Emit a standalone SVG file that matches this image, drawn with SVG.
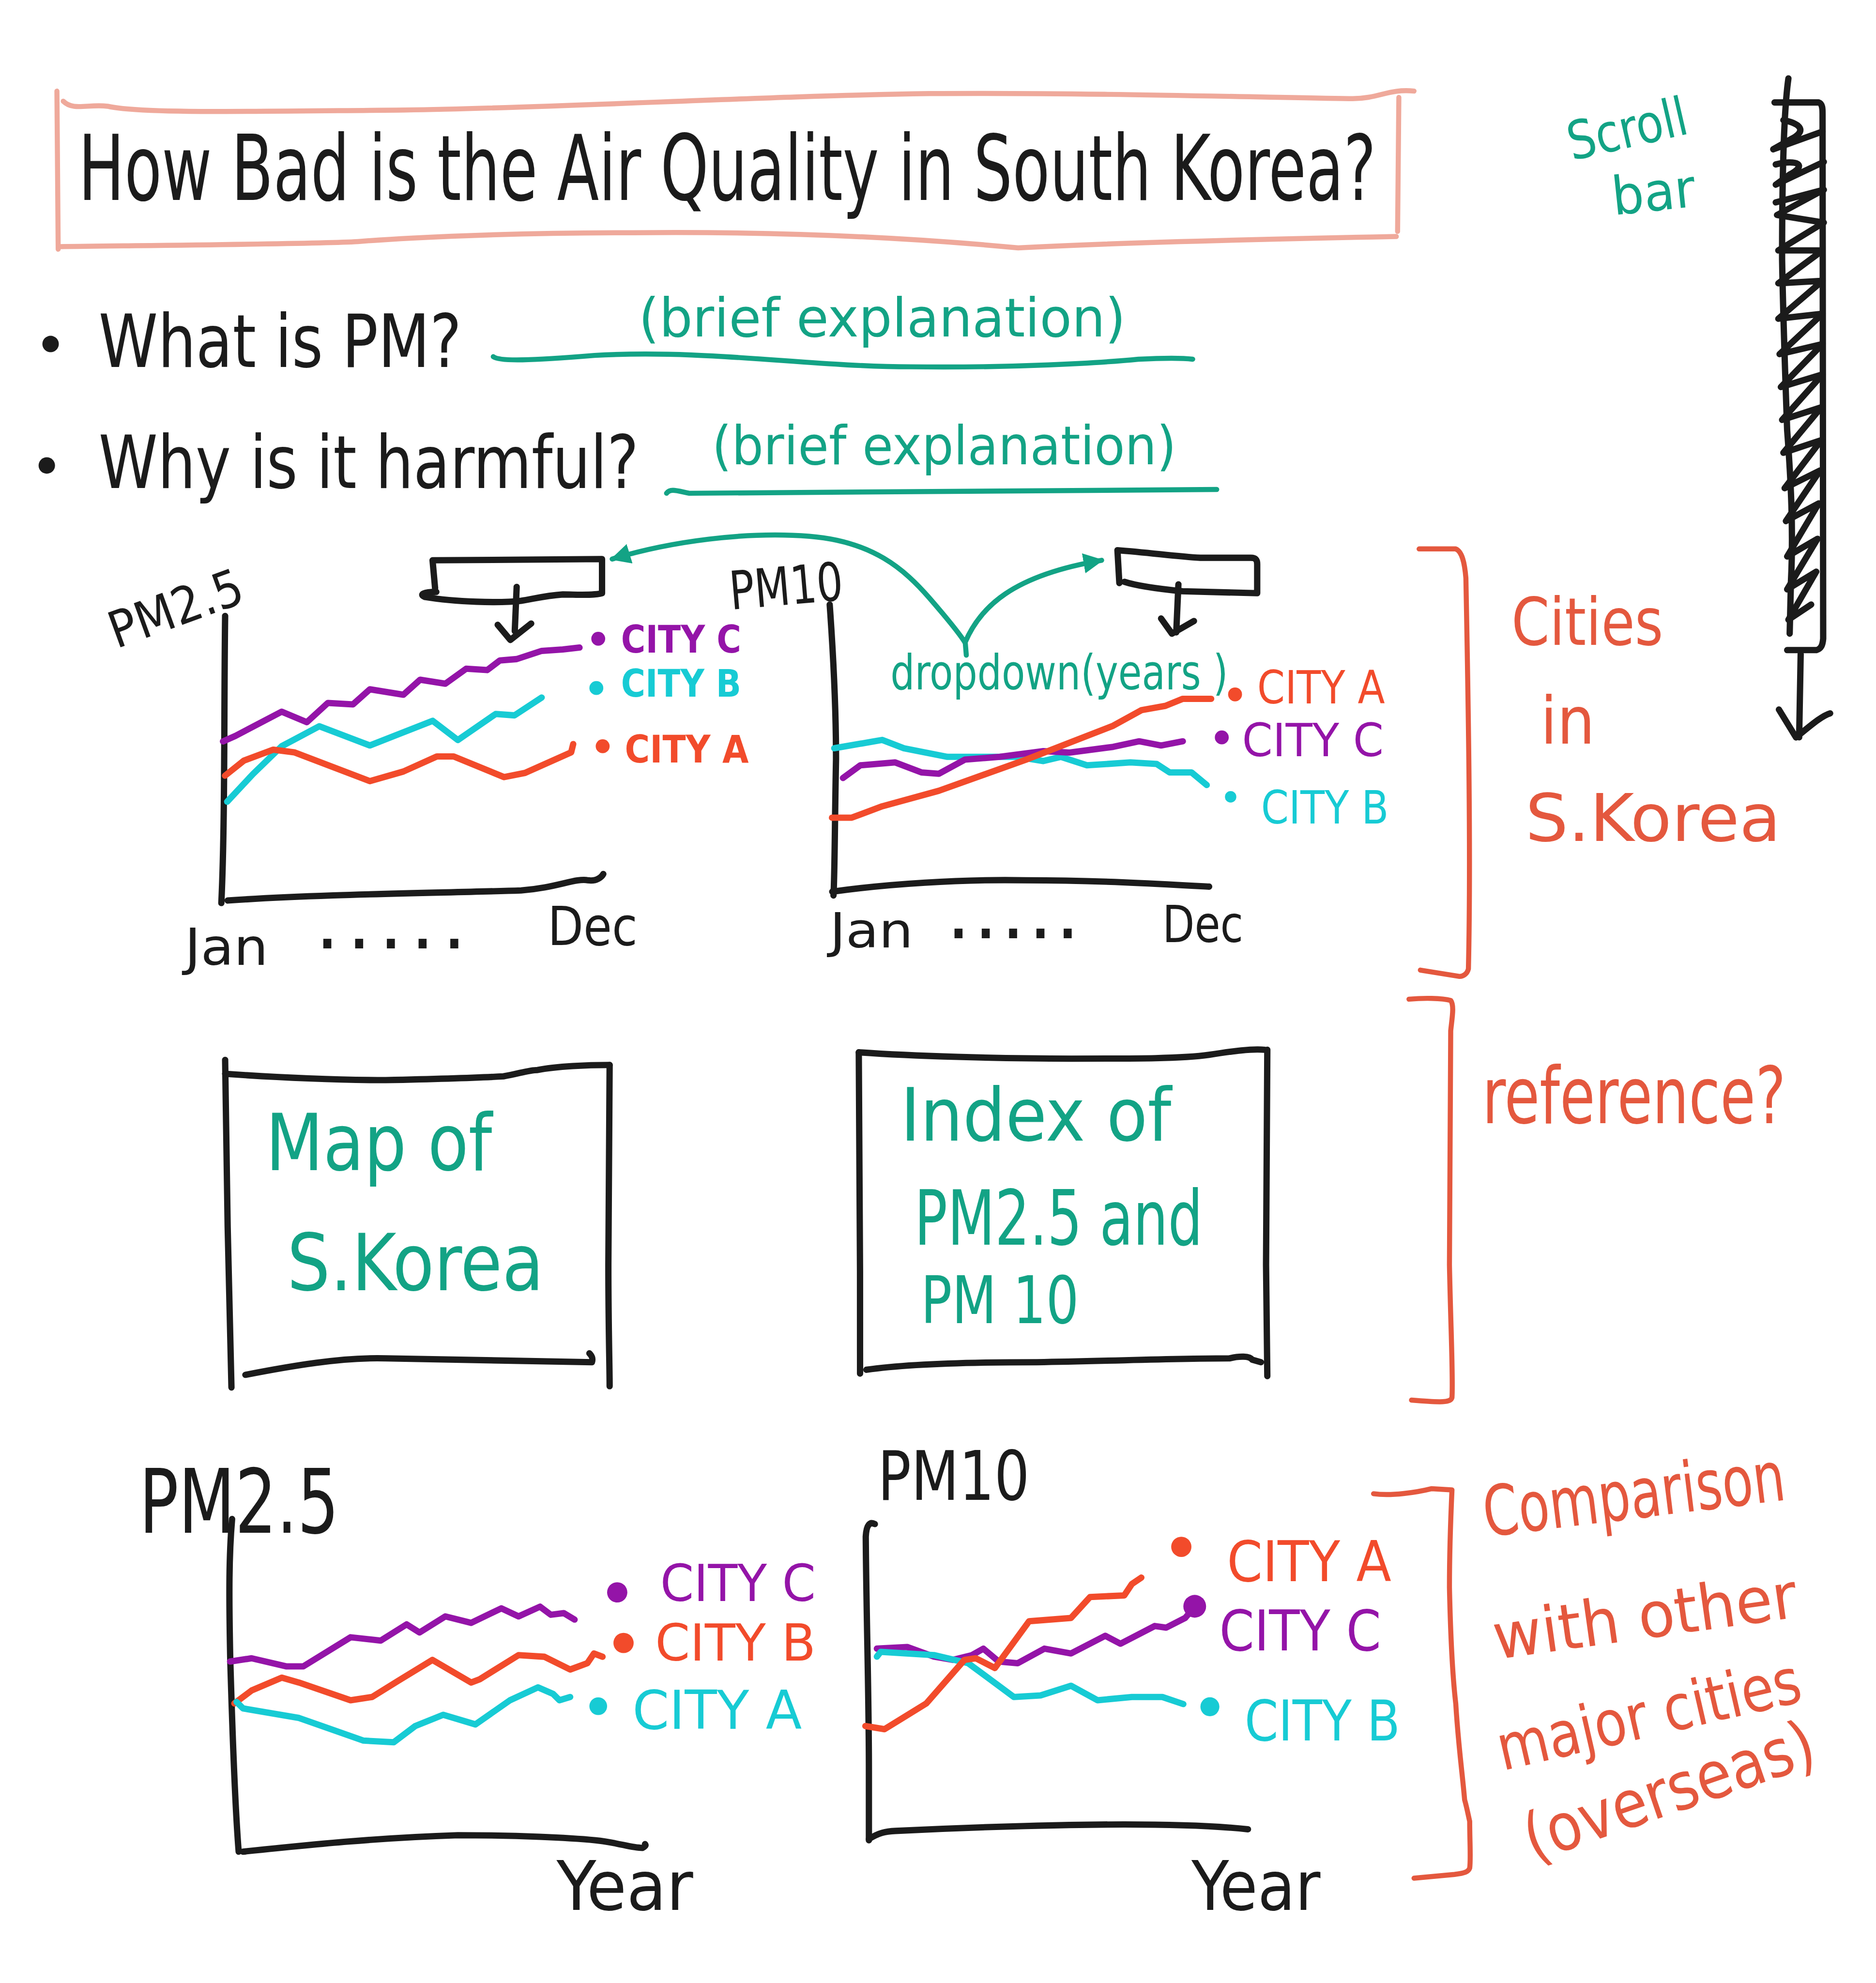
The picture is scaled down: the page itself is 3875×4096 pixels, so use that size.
<svg xmlns="http://www.w3.org/2000/svg" width="3875" height="4096" viewBox="0 0 3875 4096">
<style>
.s{fill:none;stroke-linecap:round;stroke-linejoin:round}
.k{stroke:#1b1b1b;stroke-width:5}
.g{stroke:#13a385;stroke-width:4}
.p{stroke:#9414a8;stroke-width:5}
.c{stroke:#17cbd4;stroke-width:5}
.o{stroke:#f24b2b;stroke-width:5}
.r{stroke:#e4583e;stroke-width:4}
.pk{stroke:#efa99b;stroke-width:4}
.t{font-family:"DejaVu Sans Condensed","DejaVu Sans","Liberation Sans",sans-serif}
.tk{fill:#1b1b1b}.tg{fill:#13a385}.tp{fill:#9414a8}.tc{fill:#17cbd4}.to{fill:#f24b2b}.tr{fill:#e4583e}
</style>
<defs>
<marker id="ah" viewBox="0 0 10 10" refX="9" refY="5" markerWidth="16" markerHeight="16" markerUnits="userSpaceOnUse" orient="auto-start-reverse">
<path d="M0,0 L10,5 L0,10 z" fill="#13a385"/>
</marker>
</defs>
<rect width="3875" height="4096" fill="#ffffff"/>
<g transform="scale(2.6125)">

<g id="title">
<path class="s pk" d="M50,80 C58,88 70,82 85,84 C110,90 200,88 320,87 C450,85 600,76 735,74 C850,73 1000,77 1069,78 C1090,78 1098,70 1118,72"/>
<path class="s pk" d="M45,72 L46,197"/>
<path class="s pk" d="M47,195 C120,194 250,193 283,191 C320,188 400,184 500,184 C600,183 700,186 805,196 C880,192 1000,189 1104,187"/>
<path class="s pk" d="M1106,77 L1105,183"/>
<text class="t tk" x="62" y="158" font-size="72" textLength="1026" lengthAdjust="spacingAndGlyphs">How Bad is the Air Quality in South Korea?</text>
</g>

<g id="bullet1">
<circle cx="40" cy="272" r="6.5" fill="#1b1b1b"/>
<text class="t tk" x="78" y="290" font-size="58" textLength="287" lengthAdjust="spacingAndGlyphs">What is PM?</text>
<text class="t tg" x="505" y="266" font-size="42" textLength="385" lengthAdjust="spacingAndGlyphs">(brief explanation)</text>
<path class="s g" d="M390,282 C395,286 420,285 470,281 C560,276 640,290 720,290 C800,291 870,287 900,284 C920,283 935,283 943,284"/>
</g>

<g id="bullet2">
<circle cx="37" cy="368" r="6.5" fill="#1b1b1b"/>
<text class="t tk" x="78" y="386" font-size="58" textLength="427" lengthAdjust="spacingAndGlyphs">Why is it harmful?</text>
<text class="t tg" x="563" y="367" font-size="42" textLength="367" lengthAdjust="spacingAndGlyphs">(brief explanation)</text>
<path class="s g" d="M527,390 C530,386 535,388 545,390 L962,387"/>
</g>

<g id="chart-pm25-monthly">
<text class="t tk" x="92" y="513" font-size="40" textLength="110" lengthAdjust="spacingAndGlyphs" transform="rotate(-20 92 513)">PM2.5</text>
<path class="s k" d="M178,487 C177,560 178,650 175,714"/>
<path class="s k" d="M180,712 C250,707 350,706 412,704 C440,702 455,694 465,696 C472,697 476,693 477,691"/>
<polyline class="s p" points="176.3,586.2 186.2,581.8 222.7,562.7 242.6,571 259.2,555.8 279.1,556.9 292.4,545 318.9,549.3 332.2,537.4 352.1,540.6 368.6,528.7 385.2,529.8 395.2,522.2 408.5,521.1 428.3,514.6 444.9,513.5 458.2,512"/>
<polyline class="s c" points="179.6,633.9 200,612 222.7,590 252.5,574.2 292.4,589.4 342.1,569.9 362,585.1 391.9,564.5 406.8,565.6 428.3,551.5"/>
<polyline class="s o" points="177.9,613.3 192.8,601.4 216.1,592.7 232.6,594.8 292.4,617.6 318.9,610 345.4,598.1 358.7,598.1 398.5,614.4 415.1,611.1 451.6,594.8 453.2,588.3"/>
<circle cx="473" cy="505" r="5.5" fill="#9414a8"/>
<text class="t tp" x="491" y="516" font-size="30" font-weight="bold" textLength="95" lengthAdjust="spacingAndGlyphs">CITY C</text>
<circle cx="471.5" cy="544" r="5.5" fill="#17cbd4"/>
<text class="t tc" x="491" y="551" font-size="30" font-weight="bold" textLength="95" lengthAdjust="spacingAndGlyphs">CITY B</text>
<circle cx="476.5" cy="590" r="5.5" fill="#f24b2b"/>
<text class="t to" x="494" y="603" font-size="30" font-weight="bold" textLength="98" lengthAdjust="spacingAndGlyphs">CITY A</text>
<text class="t tk" x="146" y="763" font-size="40" textLength="66" lengthAdjust="spacingAndGlyphs">Jan</text>
<text class="t tk" x="252" y="750" font-size="40" font-weight="bold" textLength="114" lengthAdjust="spacing">.....</text>
<text class="t tk" x="433" y="747" font-size="42" textLength="71" lengthAdjust="spacingAndGlyphs">Dec</text>
</g>

<g id="dropdown1">
<path class="s k" d="M342,443 L476,442 L476,469 C470,471 455,470 445,470 C430,471 420,474 412,475 C395,477 360,476 336,472 C331,470 335,468 345,468 M342,443 L344,465"/>
<path class="s k" d="M408.5,464 L407,499 M393.5,494 L403.5,506 L420,493"/>
</g>

<g id="chart-pm10-monthly">
<text class="t tk" x="578" y="482" font-size="42" textLength="90" lengthAdjust="spacingAndGlyphs" transform="rotate(-5 578 482)">PM10</text>
<path class="s k" d="M656,478 C659,520 661,560 661,600 C660,650 660,690 659,708"/>
<path class="s k" d="M658,705 C700,699 760,695 811,696 C870,696 920,699 956,701"/>
<polyline class="s c" points="659.6,591.6 697.5,585 714.7,591.6 749.1,598.4 804.3,598.4 824.9,601.7 838.7,598.4 859.4,605.1 893.8,602.8 914.5,604 924.8,610.7 942.1,610.7 954.1,620.7"/>
<polyline class="s p" points="666.5,615.1 680.2,605.1 707.8,602.8 728.5,610.7 742.3,611.8 762.9,600.6 790.5,598.4 824.9,593.9 845.6,595 880.1,590.5 900.7,586.1 918,589.4 935.2,586.1"/>
<polyline class="s o" points="657.8,646.5 673.4,646.5 697.5,637.5 742.3,625.2 811.2,600.6 880.1,573.8 902.4,561.5 921.4,558.1 935.2,552.5 957.6,552.5"/>
<text class="t tg" x="704" y="545" font-size="38" textLength="267" lengthAdjust="spacingAndGlyphs">dropdown(years )</text>
<circle cx="976.5" cy="549" r="5.5" fill="#f24b2b"/>
<text class="t to" x="994" y="556" font-size="36" textLength="101" lengthAdjust="spacingAndGlyphs">CITY A</text>
<circle cx="966" cy="583" r="5.5" fill="#9414a8"/>
<text class="t tp" x="982" y="598" font-size="36" textLength="112" lengthAdjust="spacingAndGlyphs">CITY C</text>
<circle cx="973" cy="630" r="4.5" fill="#17cbd4"/>
<text class="t tc" x="997" y="651" font-size="36" textLength="101" lengthAdjust="spacingAndGlyphs">CITY B</text>
<text class="t tk" x="656" y="749" font-size="38" textLength="66" lengthAdjust="spacingAndGlyphs">Jan</text>
<text class="t tk" x="751" y="742" font-size="40" font-weight="bold" textLength="100" lengthAdjust="spacing">.....</text>
<text class="t tk" x="919" y="745" font-size="40" textLength="64" lengthAdjust="spacingAndGlyphs">Dec</text>
</g>

<g id="dropdown2">
<path class="s k" d="M883.5,435 C910,437 930,440 949,441 L989,441 C993,441 994,443 994,446 L994,469 L935,467.5 C910,465 895,462 889,460 M883.5,435 L885,461"/>
<path class="s k" d="M931.7,462 L930,500 M918,489 L926.6,501 L944,491"/>
</g>

<g id="connectors">
<path class="s g" marker-start="url(#ah)" marker-end="url(#ah)" d="M484,442 C530,428 590,420 640,424 C690,428 715,450 735,473 C748,488 758,500 763,508 C775,480 800,455 871,443"/>
<path class="s g" d="M763,506 L764,518"/>
</g>

<g id="scrollbar">
<text class="t tg" x="1243" y="127" font-size="42" textLength="96" lengthAdjust="spacingAndGlyphs" transform="rotate(-13 1243 127)">Scroll</text>
<text class="t tg" x="1276" y="170" font-size="42" textLength="66" lengthAdjust="spacingAndGlyphs" transform="rotate(-6 1276 170)">bar</text>
<path class="s k" stroke-width="4" d="M1403,81 L1438,81 C1441,82 1441,86 1441,90 L1441.5,505 C1441,510 1440,513 1436,514 L1413,514"/>
<path class="s k" stroke-width="4" d="M1414,62 C1410,90 1409,150 1409,205 C1410,260 1412,310 1413,340 C1416,380 1418,420 1416,460 L1415,501"/>
<path class="s k" stroke-width="3.5" d="M1410,95 C1425,98 1428,104 1416,110 L1402,118 L1441,104 M1404,130 C1420,126 1430,130 1415,138 L1404,146 L1442,128 M1404,160 L1442,150 L1405,170 L1442,176 L1406,198 L1441,198 L1406,224 L1441,222 L1406,252 L1441,248 L1407,280 L1441,272 L1408,306 L1441,296 L1409,332 L1440,322 L1410,358 L1440,348 L1411,386 L1439,372 L1412,412 L1438,398 L1413,440 L1437,426 L1413,466 L1436,452 L1414,490 L1432,478"/>
<path class="s k" stroke-width="4" d="M1423.7,517 L1422.5,583 M1406.5,561 L1420,583 C1430,575 1440,566 1447,564"/>
</g>

<g id="bracket-cities">
<path class="s r" d="M1122,434 L1151,434 C1156,436 1158,445 1159,457 C1161,560 1163,680 1161,766 C1160,770 1157,772 1154,772 L1123,767"/>
<text class="t tr" x="1195" y="510" font-size="52" textLength="120" lengthAdjust="spacingAndGlyphs">Cities</text>
<text class="t tr" x="1218" y="588" font-size="52" textLength="43" lengthAdjust="spacingAndGlyphs">in</text>
<text class="t tr" x="1206" y="665" font-size="52" textLength="202" lengthAdjust="spacingAndGlyphs">S.Korea</text>
</g>

<g id="bracket-reference">
<path class="s r" d="M1114,790 C1125,789 1140,789 1147,791 C1150,795 1148,805 1147,815 L1146,1000 C1147,1050 1149,1090 1148,1105 C1147,1109 1140,1109 1116,1107"/>
<text class="t tr" x="1172" y="888" font-size="62" textLength="240" lengthAdjust="spacingAndGlyphs">reference?</text>
</g>

<g id="map-box">
<path class="s k" d="M178,838 L180,970 L183,1097"/>
<path class="s k" d="M178,849 C220,852 270,854 305,854 C350,853 380,852 398,851 C410,849 418,846 425,846 C440,843 465,842 482,842"/>
<path class="s k" d="M482,842 L481,1000 C481,1050 482,1080 482,1096"/>
<path class="s k" d="M194,1087 C230,1080 270,1073 305,1074 L468,1077 C469,1074 468,1072 466,1070"/>
<text class="t tg" x="210" y="925" font-size="62" textLength="179" lengthAdjust="spacingAndGlyphs">Map of</text>
<text class="t tg" x="227" y="1020" font-size="62" textLength="203" lengthAdjust="spacingAndGlyphs">S.Korea</text>
</g>

<g id="index-box">
<path class="s k" d="M679,832 C680,900 680,1000 680,1086"/>
<path class="s k" d="M679,832 C720,835 790,837 847,837 C900,837 935,837 956,834 C975,831 990,829 1000,830"/>
<path class="s k" d="M1002,830 L1001,1000 L1002,1088"/>
<path class="s k" d="M685,1083 C720,1078 770,1077 820,1077 C880,1076 930,1074 972,1074 C980,1072 988,1072 990,1075 L997,1077"/>
<text class="t tg" x="712" y="902" font-size="58" textLength="214" lengthAdjust="spacingAndGlyphs">Index of</text>
<text class="t tg" x="723" y="984" font-size="60" textLength="228" lengthAdjust="spacingAndGlyphs">PM2.5 and</text>
<text class="t tg" x="728" y="1046" font-size="52" textLength="125" lengthAdjust="spacingAndGlyphs">PM 10</text>
</g>

<g id="chart-pm25-yearly">
<text class="t tk" x="110" y="1212" font-size="70" textLength="158" lengthAdjust="spacingAndGlyphs">PM2.5</text>
<path class="s k" d="M183.5,1201 C181,1230 181,1260 182,1310 C184,1380 186,1430 188.7,1464"/>
<path class="s k" d="M192,1464 C250,1458 300,1453 362,1451 C410,1451 450,1453 471,1455 C490,1457 498,1461 508,1461 C510,1460 511,1459 510,1458"/>
<polyline class="s p" stroke-width="4.5" points="181.9,1313.7 198.9,1311.1 226.2,1317.5 239.8,1317.5 277.2,1294.5 301,1297.1 321.5,1284.3 331.7,1290.7 352.1,1278 372.5,1283.1 396.4,1271.6 410,1278 427,1270.3 435.5,1276.7 445.7,1275.4 454.3,1280.5"/>
<polyline class="s o" stroke-width="4.5" points="185.3,1346.8 198.9,1336.6 222.8,1326.4 236.4,1330.3 277.2,1344.3 294.2,1341.7 314.7,1329 341.9,1312.4 372.5,1330.3 379.3,1327.7 410,1308.6 430.4,1309.9 450.8,1320 464.4,1315 469.6,1307.3 476.4,1309.9"/>
<polyline class="s c" stroke-width="4.5" points="187,1345.6 192.1,1350.7 236.4,1358.3 287.4,1376.2 311.3,1377.5 328.3,1364.7 350.4,1355.8 375.9,1363.4 403.2,1344.3 425.3,1334.1 437.2,1339.2 442.3,1344.3 450.8,1341.7"/>
<circle cx="488" cy="1259" r="8" fill="#9414a8"/>
<text class="t tp" x="522" y="1266" font-size="40" textLength="123" lengthAdjust="spacingAndGlyphs">CITY C</text>
<circle cx="493" cy="1299" r="8" fill="#f24b2b"/>
<text class="t to" x="518" y="1313" font-size="40" textLength="127" lengthAdjust="spacingAndGlyphs">CITY B</text>
<circle cx="473" cy="1349" r="7" fill="#17cbd4"/>
<text class="t tc" x="500" y="1367" font-size="42" textLength="134" lengthAdjust="spacingAndGlyphs">CITY A</text>
<text class="t tk" x="440" y="1510" font-size="54" textLength="108" lengthAdjust="spacingAndGlyphs">Year</text>
</g>

<g id="chart-pm10-yearly">
<text class="t tk" x="694" y="1186" font-size="54" textLength="120" lengthAdjust="spacingAndGlyphs">PM10</text>
<path class="s k" d="M691.7,1205 C688,1203 685,1205 684.5,1215 C685,1280 687,1340 687,1400 L687,1455"/>
<path class="s k" d="M687,1454 C695,1449 700,1448 708,1447.6 C780,1444 850,1442.5 889,1442.5 C930,1442.5 965,1444 986.7,1446.3"/>
<polyline class="s p" stroke-width="4.5" points="693.3,1303.5 717.3,1302.2 738.4,1309.8 753.4,1312.4 768.5,1308.6 777.5,1303.5 789.6,1313.7 804.6,1315 825.7,1303.5 846.8,1307.3 873.9,1293.3 885.9,1299.6 913,1285.6 922,1286.9 937.1,1279.2 944.6,1270.3"/>
<polyline class="s c" stroke-width="4.5" points="693.3,1309.8 696.3,1306 738.4,1308.6 765.5,1315 801.6,1341.7 822.7,1340.5 846.8,1332.8 867.8,1344.3 894.9,1341.7 919,1341.7 935.6,1347.3"/>
<polyline class="s o" stroke-width="4.5" points="684.2,1364.7 699.3,1367.2 732.4,1346.8 762.5,1312.4 771.5,1311.1 786.6,1318.8 813.7,1281.8 846.8,1279.2 861.8,1262.7 888.9,1261.4 894.9,1252.4 902.4,1247.3"/>
<circle cx="934" cy="1223" r="8" fill="#f24b2b"/>
<text class="t to" x="970" y="1250" font-size="44" textLength="130" lengthAdjust="spacingAndGlyphs">CITY A</text>
<circle cx="944.6" cy="1270" r="9" fill="#9414a8"/>
<text class="t tp" x="964" y="1305" font-size="44" textLength="128" lengthAdjust="spacingAndGlyphs">CITY C</text>
<circle cx="956.6" cy="1349.4" r="7.5" fill="#17cbd4"/>
<text class="t tc" x="984" y="1376" font-size="44" textLength="123" lengthAdjust="spacingAndGlyphs">CITY B</text>
<text class="t tk" x="942" y="1510" font-size="54" textLength="102" lengthAdjust="spacingAndGlyphs">Year</text>
</g>

<g id="bracket-comparison">
<path class="s r" d="M1086,1181 C1100,1183 1120,1180 1132,1177 L1148,1178 C1147,1200 1146,1230 1146,1255 C1147,1300 1149,1330 1151,1347 C1153,1380 1156,1400 1158,1423 C1160,1430 1161,1436 1162,1440 C1162,1455 1163,1470 1162,1477 C1161,1480 1158,1481 1150,1482 L1118,1485"/>
<text class="t tr" x="1175" y="1215" font-size="55" textLength="240" lengthAdjust="spacingAndGlyphs" transform="rotate(-7 1175 1215)">Comparison</text>
<text class="t tr" x="1183" y="1312" font-size="50" textLength="242" lengthAdjust="spacingAndGlyphs" transform="rotate(-8 1183 1312)">with other</text>
<text class="t tr" x="1188" y="1400" font-size="50" textLength="245" lengthAdjust="spacingAndGlyphs" transform="rotate(-13 1188 1400)">major cities</text>
<text class="t tr" x="1212" y="1472" font-size="52" textLength="240" lengthAdjust="spacingAndGlyphs" transform="rotate(-19 1212 1472)">(overseas)</text>
</g>

</g>
</svg>
